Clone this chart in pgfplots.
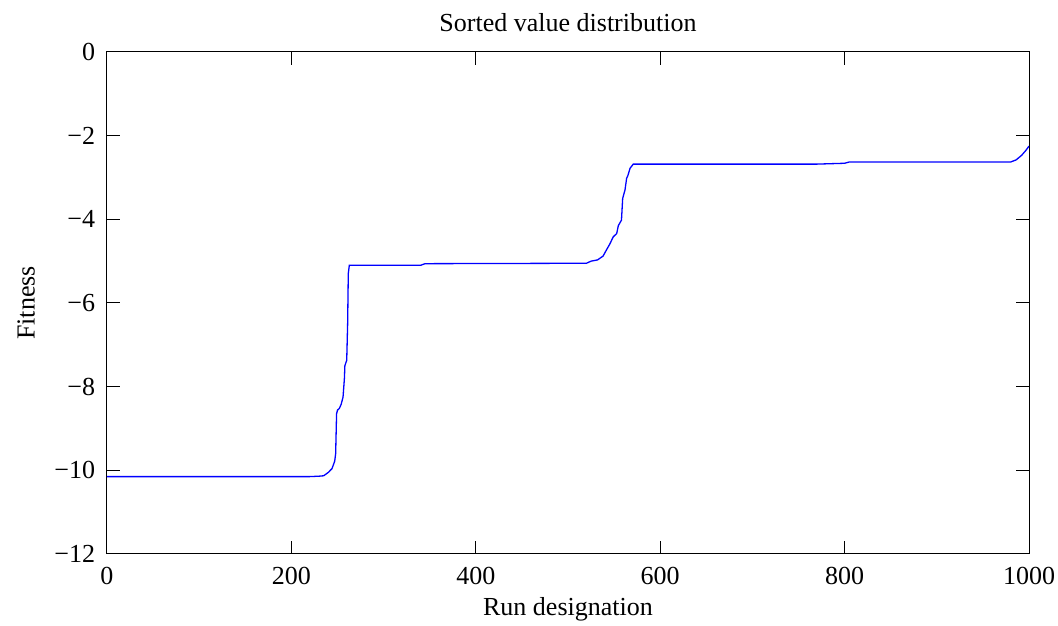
\documentclass[border=0pt]{standalone}
\usepackage{fontspec}
\setmainfont{Liberation Serif}
\usepackage{pgfplots}
\pgfplotsset{compat=1.18}
\begin{document}
\fontsize{26}{30}\selectfont
\begin{tikzpicture}
\useasboundingbox (-107pt,-72pt) rectangle (951pt,554pt);
\begin{axis}[
  at={(0pt,0pt)}, anchor=south west,
  scale only axis, width=922pt, height=502pt,
  xmin=0, xmax=1000, ymin=-12, ymax=0,
  xtick={0,200,400,600,800,1000},
  xticklabels={0,200,400,600,800,1000},
  ytick={-12,-10,-8,-6,-4,-2,0},
  yticklabels={−12,−10,−8,−6,−4,−2,0},
  tick align=inside, major tick length=13pt,
  minor tick num=0,
  axis line style={line width=1pt},
  every tick/.style={line width=1pt, black},
  ticklabel style={font=\fontsize{26}{30}\selectfont},
  xticklabel style={yshift=-4pt},
  yticklabel style={xshift=-3pt},
  title={Sorted value distribution},
  title style={font=\fontsize{26}{30}\selectfont, yshift=5pt},
  xlabel={Run designation},
  ylabel={Fitness},
  label style={font=\fontsize{26}{30}\selectfont},
  xlabel style={yshift=4pt},
  ylabel style={yshift=2pt},
]
\addplot[blue, line width=1.3pt] coordinates {
(0,-10.15) (220,-10.15) (230,-10.14) (235,-10.13) (240,-10.05) (244,-9.96)
(247,-9.78) (248,-9.6) (249,-8.65) (250,-8.56) (252,-8.52) (254,-8.42)
(256,-8.25) (257.5,-7.8) (258,-7.5) (260,-7.37) (261,-6.5) (261.7,-5.3)
(262.8,-5.1) (340,-5.1) (345,-5.06) (520,-5.05) (525,-5.0) (532,-4.97)
(538,-4.88) (542,-4.72) (545.6,-4.58) (549,-4.42) (552.8,-4.34) (554.6,-4.15)
(558,-4.02) (559.3,-3.5) (561.8,-3.3) (563.6,-3.02) (565,-2.95) (567.3,-2.78)
(570.8,-2.68) (770,-2.68) (800,-2.66) (805,-2.63) (980,-2.63) (986,-2.58)
(992,-2.47) (996.7,-2.35) (1000,-2.25)
};
\end{axis}
\end{tikzpicture}
\end{document}
